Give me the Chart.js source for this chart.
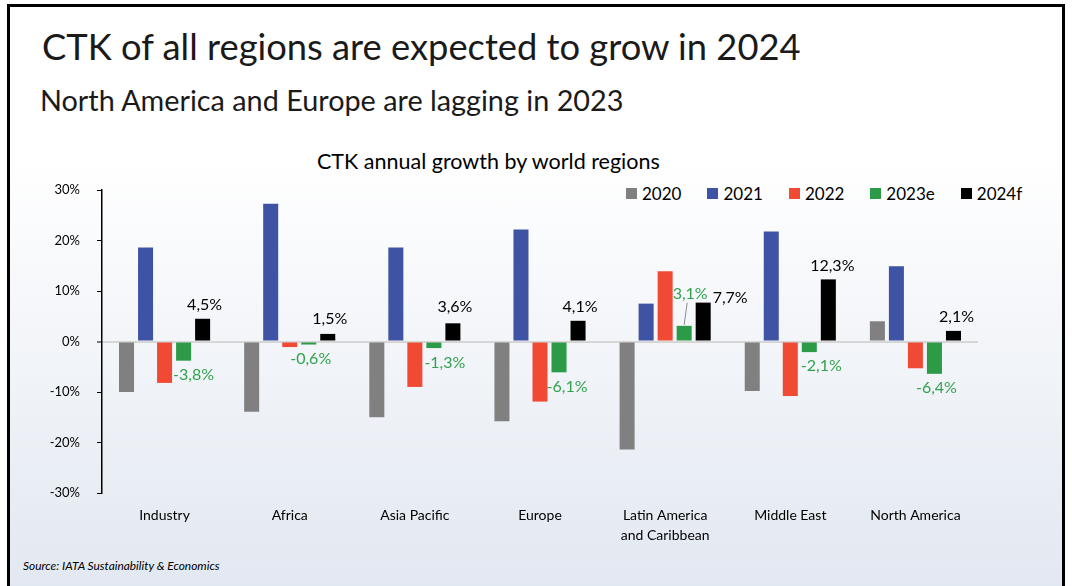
<!DOCTYPE html>
<html>
<head>
<meta charset="utf-8">
<script src="https://cdn.jsdelivr.net/npm/chart.js@4.4.0/dist/chart.umd.min.js"></script>
<style>
html, body { margin: 0; padding: 0; background: #fff; }
body { width: 1072px; height: 586px; position: relative; overflow: hidden; font-family: Lato, sans-serif; color: #1a1a1a; }
#frame { position: absolute; left: 7px; top: 4px; width: 1052px; height: 600px; border: 3px solid #000; border-bottom: none;
  background: linear-gradient(to bottom, #fff 0px, #fff 150px, #e2e8f1 582px); }
.txt { position: absolute; white-space: nowrap; line-height: 1; }
#title { left: 42px; top: 28px; font-size: 36.3px; }
#subtitle { left: 40px; top: 86px; font-size: 28.8px; }
#chartTitle { left: 317px; top: 151px; font-size: 21.5px; color: #000; }
#source { left: 23px; top: 560px; font-size: 11.9px; font-style: italic; color: #000; }
#legend { position: absolute; left: 626px; top: 185px; display: flex; align-items: center; font-size: 17px; color: #000; line-height: 1; }
#legend .item { display: flex; align-items: center; margin-right: 26px; }
#legend .box { width: 11px; height: 11px; margin-right: 5px; }
#wrap { position: absolute; left: 0; top: 0; width: 1072px; height: 586px; }
</style>
</head>
<body>
<div id="frame"></div>
<div class="txt" id="title">CTK of all regions are expected to grow in 2024</div>
<div class="txt" id="subtitle">North America and Europe are lagging in 2023</div>
<div class="txt" id="chartTitle">CTK annual growth by world regions</div>
<div id="legend"></div>
<div class="txt" id="source">Source: IATA Sustainability &amp; Economics</div>
<div id="wrap"><canvas id="growthChart"></canvas></div>
<script>
// values (%)
const regions = ['Industry', 'Africa', 'Asia Pacific', 'Europe', ['Latin America', 'and Caribbean'], 'Middle East', 'North America'];
const seriesNames = ['2020', '2021', '2022', '2023e', '2024f'];
const y2020 = [-10.0, -13.9, -15.0, -15.8, -21.4, -9.8, 4.0];
const y2021 = [18.6, 27.3, 18.6, 22.2, 7.5, 21.8, 14.9];
const y2022 = [-8.2, -1.1, -9.0, -11.9, 13.9, -10.8, -5.3];
const y2023e = [-3.8, -0.6, -1.3, -6.1, 3.1, -2.1, -6.4];
const y2024f = [4.5, 1.5, 3.6, 4.1, 7.7, 12.3, 2.1];
const yTicks = [-30, -20, -10, 0, 10, 20, 30];

const colors = ['#808080', '#3f53a5', '#f14a34', '#2d9a48', '#000000'];
const labelColors = { 3: '#33a24e', 4: '#000000' };
// label nudges in px from the bar end: [dx, dy]
const labelShift = {
    3: [[10, 14], [2, 14], [11, 15], [8, 15], [6, -32], [12, 14], [2, 14]],
    4: [[2, -14], [2, -15], [2, -16], [2, -14], [27, -5], [4, -14], [3, -14]]
};

// html legend
const legendEl = document.getElementById('legend');
seriesNames.forEach((name, i) => {
    legendEl.innerHTML += `<div class="item"><div class="box" style="background:${colors[i]}"></div>${name}</div>`;
});

const fmt = v => v.toFixed(1).replace('.', ',') + '%';

const barLabels = {
    id: 'barLabels',
    afterDatasetsDraw(chart) {
        const ctx = chart.ctx;
        ctx.save();
        ctx.font = '16px Lato';
        ctx.textAlign = 'center';
        ctx.textBaseline = 'middle';
        [3, 4].forEach(di => {
            const meta = chart.getDatasetMeta(di);
            const values = chart.data.datasets[di].data;
            meta.data.forEach((bar, j) => {
                const [dx, dy] = labelShift[di][j];
                const x = bar.x + dx, y = bar.y + dy;
                ctx.fillStyle = labelColors[di];
                ctx.fillText(fmt(values[j]), x, y);
                if (di === 3 && values[j] > 0 && dy < -20) {
                    // leader line for the lifted label
                    ctx.strokeStyle = '#8c8c8c';
                    ctx.lineWidth = 1;
                    ctx.beginPath();
                    ctx.moveTo(x - 3, y + 9);
                    ctx.lineTo(bar.x, bar.y - 1);
                    ctx.stroke();
                }
            });
        });
        ctx.restore();
    }
};

Chart.defaults.font.family = 'Lato';
Chart.defaults.color = '#000';

const seriesData = [y2020, y2021, y2022, y2023e, y2024f];

new Chart(document.getElementById('growthChart').getContext('2d'), {
    type: 'bar',
    data: {
        labels: regions,
        datasets: seriesNames.map((name, i) => ({
            label: name,
            data: seriesData[i],
            backgroundColor: colors[i],
            borderWidth: 0,
            categoryPercentage: 0.76,
            barPercentage: 0.79
        }))
    },
    options: {
        responsive: true,
        maintainAspectRatio: false,
        animation: false,
        layout: { padding: { top: 190, right: 94, bottom: 33, left: 0 } },
        plugins: {
            legend: { display: false },
            title: { display: false },
            tooltip: { enabled: false }
        },
        scales: {
            x: {
                grid: { display: false, drawTicks: false },
                border: { display: false },
                ticks: { font: { size: 14, lineHeight: 1.45 }, padding: 12, maxRotation: 0, autoSkip: false },
                afterFit: s => { s.height = 60; }
            },
            y: {
                min: -30,
                max: 30,
                afterBuildTicks: s => { s.ticks = yTicks.map(v => ({ value: v })); },
                ticks: { font: { size: 13 }, padding: 17, callback: v => v + '%' },
                grid: {
                    color: c => c.tick && c.tick.value === 0 ? '#d6d6d6' : 'rgba(0,0,0,0)',
                    lineWidth: c => c.tick && c.tick.value === 0 ? 2 : 1,
                    tickColor: '#000',
                    tickWidth: 1,
                    tickLength: 5
                },
                border: { display: true, color: '#000', width: 1.5 },
                afterFit: s => { s.width = 102; }
            }
        }
    },
    plugins: [barLabels]
});
</script>
</body>
</html>
